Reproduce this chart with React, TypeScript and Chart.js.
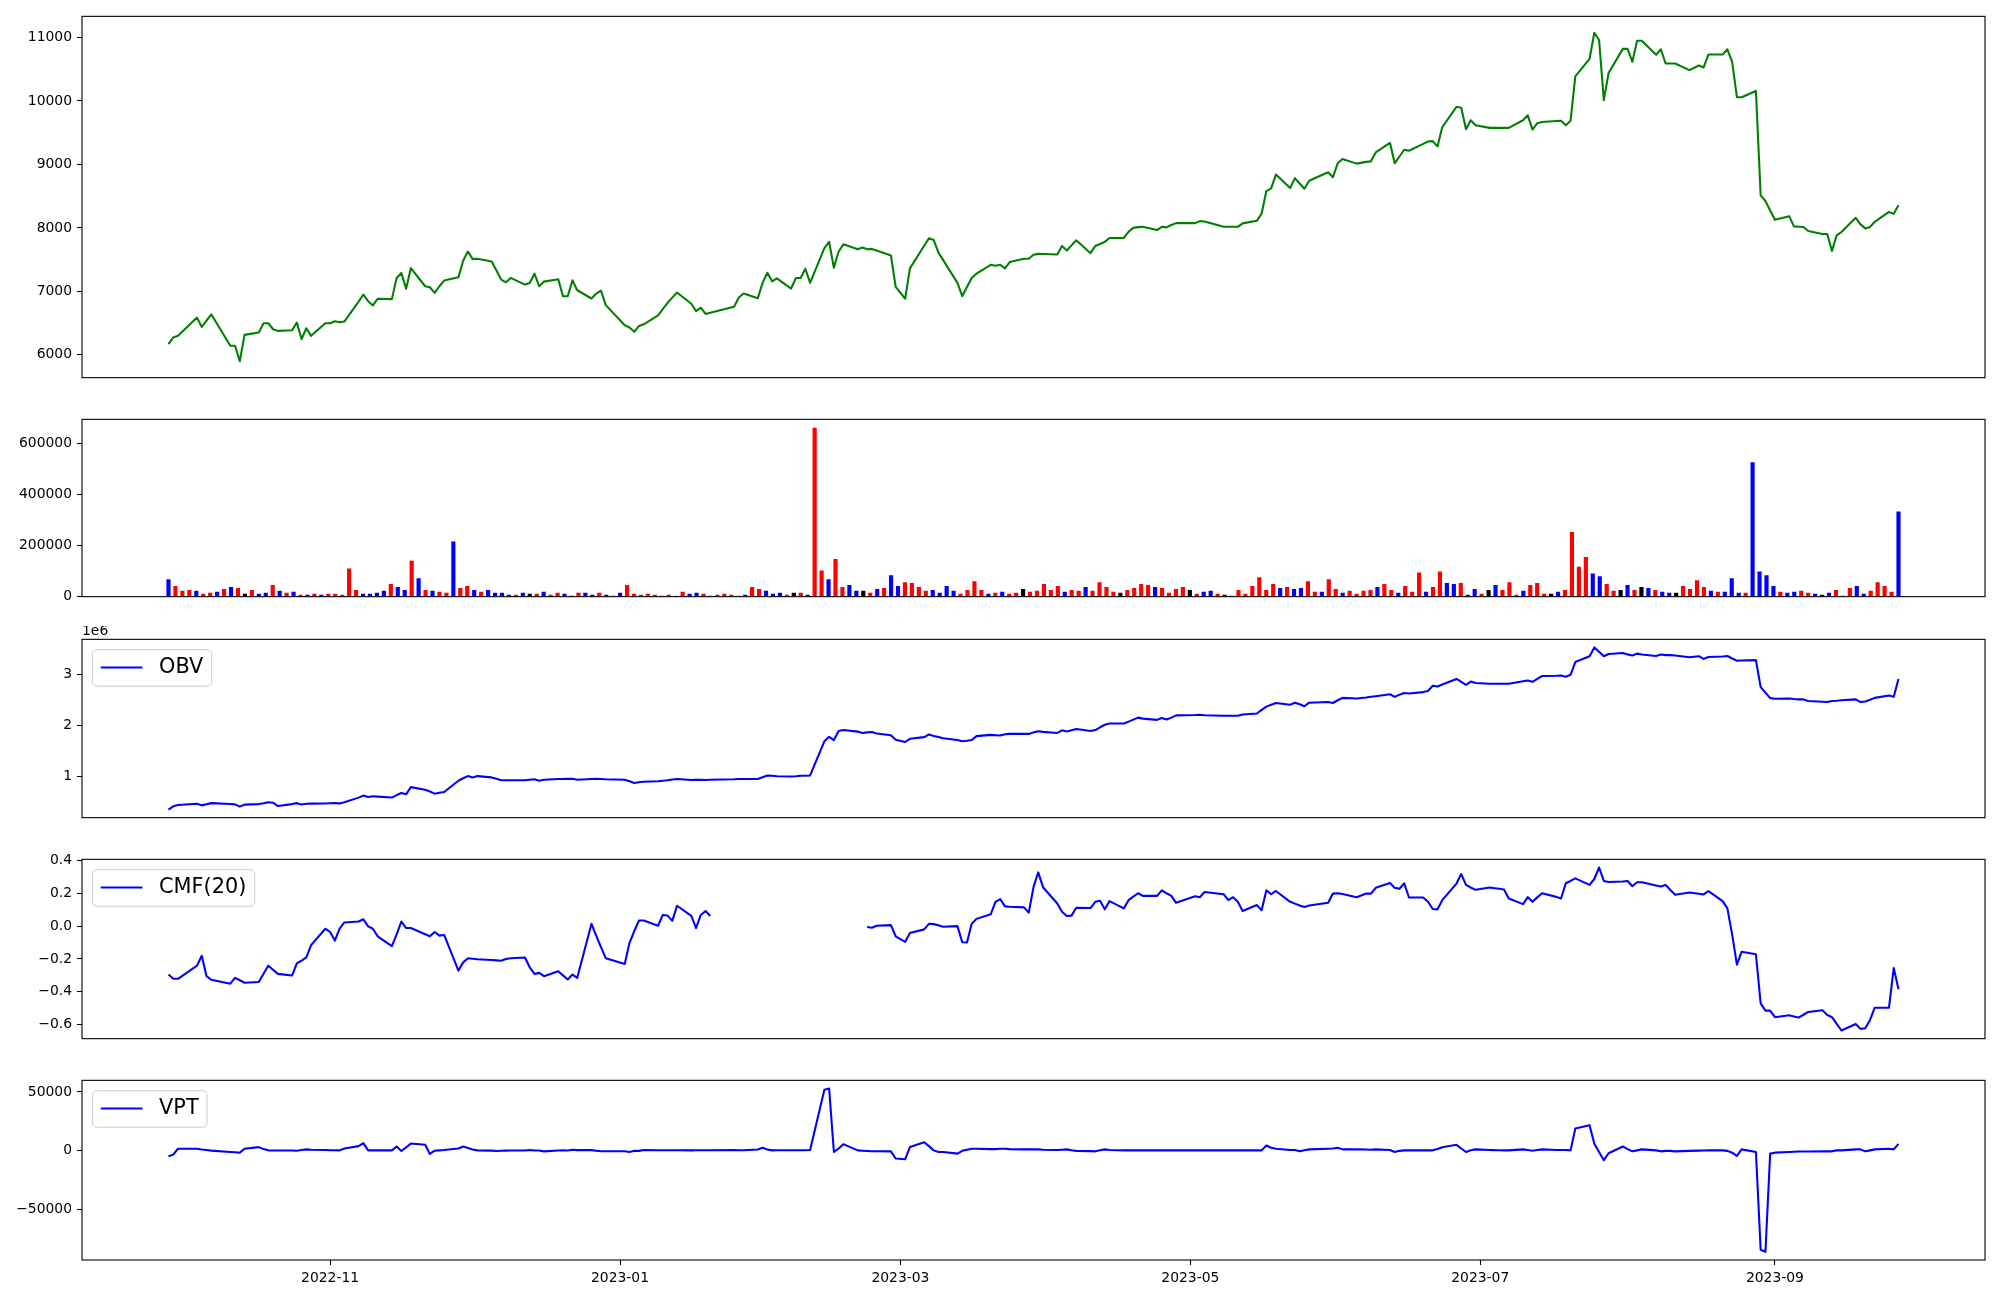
import React, { useEffect, useRef } from 'react';
import { Chart, registerables } from 'chart.js';

Chart.register(...registerables);
Chart.defaults.font.family = '"DejaVu Sans"';

// ---------------- data ----------------
// trading days (KRX), grouped by month
const MONTH_DAYS: [string, number[]][] = [
  ['2022-09', [28, 29, 30]],
  ['2022-10', [4, 5, 6, 7, 11, 12, 13, 14, 17, 18, 19, 20, 21, 24, 25, 26, 27, 28, 31]],
  ['2022-11', [1, 2, 3, 4, 7, 8, 9, 10, 11, 14, 15, 16, 17, 18, 21, 22, 23, 24, 25, 28, 29, 30]],
  ['2022-12', [1, 2, 5, 6, 7, 8, 9, 12, 13, 14, 15, 16, 19, 20, 21, 22, 23, 26, 27, 28, 29]],
  ['2023-01', [2, 3, 4, 5, 6, 9, 10, 11, 12, 13, 16, 17, 18, 19, 20, 25, 26, 27, 30, 31]],
  ['2023-02', [1, 2, 3, 6, 7, 8, 9, 10, 13, 14, 15, 16, 17, 20, 21, 22, 23, 24, 27, 28]],
  ['2023-03', [2, 3, 6, 7, 8, 9, 10, 13, 14, 15, 16, 17, 20, 21, 22, 23, 24, 27, 28, 29, 30, 31]],
  ['2023-04', [3, 4, 5, 6, 7, 10, 11, 12, 13, 14, 17, 18, 19, 20, 21, 24, 25, 26, 27, 28]],
  ['2023-05', [2, 3, 4, 8, 9, 10, 11, 12, 15, 16, 17, 18, 19, 22, 23, 24, 25, 26, 30, 31]],
  ['2023-06', [1, 2, 5, 7, 8, 9, 12, 13, 14, 15, 16, 19, 20, 21, 22, 23, 26, 27, 28, 29, 30]],
  ['2023-07', [3, 4, 5, 6, 7, 10, 11, 12, 13, 14, 17, 18, 19, 20, 21, 24, 25, 26, 27, 28, 31]],
  ['2023-08', [1, 2, 3, 4, 7, 8, 9, 10, 11, 14, 16, 17, 18, 21, 22, 23, 24, 25, 28, 29, 30, 31]],
  ['2023-09', [1, 4, 5, 6, 7, 8, 11, 12, 13, 14, 15, 18, 19, 20, 21, 22, 25, 26, 27]],
];
const DATES: string[] = MONTH_DAYS.flatMap(([ym, days]) =>
  days.map((d) => `${ym}-${String(d).padStart(2, '0')}`)
);

const CLOSE = [
  6170, 6275, 6300, 6587, 6440, 6540, 6639, 6144, 6144, 5900,
  6315, 6353, 6498, 6498, 6404, 6378, 6389, 6509, 6248, 6420,
  6300, 6498, 6498, 6529, 6514, 6525, 6840, 6951, 6846, 6779,
  6883, 6878, 7212, 7290, 7040, 7368, 7081, 7065, 6977, 7081,
  7170, 7221, 7482, 7627, 7508, 7513, 7471, 7328, 7185, 7143,
  7212, 7107, 7133, 7279, 7081, 7154, 7190, 6924, 6924, 7174,
  7018, 6888, 6966, 7013, 6784, 6467, 6431, 6363, 6456, 6482,
  6623, 6722, 6821, 6902, 6982, 6806, 6690, 6743, 6644, 6663,
  6759, 6904, 6967, 6893, 7134, 7294, 7159, 7206, 7045, 7211,
  7211, 7357, 7134, 7680, 7779, 7373, 7627, 7742, 7664, 7690,
  7664, 7669, 7643, 7565, 7071, 6884, 7362, 7718, 7836, 7810,
  7611, 7492, 7134, 6924, 7068, 7211, 7279, 7419, 7404, 7419,
  7362, 7462, 7513, 7513, 7576, 7591, 7588, 7580, 7716, 7643,
  7724, 7805, 7602, 7716, 7747, 7779, 7841, 7841, 7939, 8000,
  8012, 8017, 7966, 8017, 8008, 8045, 8075, 8075, 8106, 8102,
  8017, 8017, 8017, 8017, 8071, 8111, 8227, 8580, 8622, 8840,
  8627, 8783, 8700, 8617, 8742, 8876, 8798, 9017, 9085, 9012,
  9040, 9048, 9189, 9340, 9017, 9124, 9231, 9215, 9324, 9360,
  9367, 9283, 9585, 9907, 9891, 9554, 9695, 9617, 9575, 9575,
  9575, 9575, 9575, 9695, 9773, 9548, 9648, 9668, 9683, 9688,
  9617, 9688, 10386, 10663, 11073, 10959, 10012, 10438, 10819, 10819,
  10616, 10948, 10948, 10725, 10813, 10589, 10589, 10589, 10485, 10558,
  10527, 10730, 10730, 10813, 10616, 10058, 10058, 10157, 8512, 8424,
  8275, 8127, 8185, 8024, 8018, 8013, 7950, 7904, 7904, 7638,
  7883, 7935, 8158, 8055, 7992, 8013, 8096, 8252, 8221, 8356,
];

const VOLUME = [
  68000, 41600, 22700, 26500, 22700, 11300, 15100, 18900, 30200, 37800,
  34000, 11300, 26500, 11300, 15100, 45400, 22700, 15100, 18900, 7600,
  7600, 11300, 7600, 11300, 11300, 7600, 109600, 26500, 11300, 11300,
  15100, 22700, 49100, 37800, 26500, 140000, 71800, 26500, 22700, 18900,
  15100, 216000, 34000, 41600, 26500, 18900, 26500, 15100, 15100, 7600,
  7600, 15100, 11300, 11300, 18900, 7600, 15100, 11300, 3800, 15100,
  15100, 7600, 15100, 7600, 3800, 15100, 45400, 11300, 7600, 11300,
  7600, 3800, 7600, 3800, 18900, 11300, 15100, 11300, 3800, 7600,
  11300, 7600, 3800, 7600, 37800, 30200, 22700, 11300, 15100, 7600,
  15100, 15100, 7600, 660000, 102000, 68000, 147000, 37800, 45400, 22700,
  22700, 15100, 30200, 34000, 83200, 41600, 56700, 52900, 37800, 22700,
  26500, 15100, 41600, 22700, 11300, 26500, 60500, 26500, 11300, 15100,
  18900, 11300, 15100, 30200, 18900, 22700, 49100, 26500, 41600, 18900,
  26500, 22700, 37800, 22700, 56700, 37800, 18900, 15100, 26500, 34000,
  49100, 45400, 37800, 34000, 15100, 30200, 37800, 26500, 11300, 18900,
  22700, 11300, 7600, 3800, 26500, 11300, 41600, 75600, 26500, 49100,
  34000, 37800, 30200, 34000, 60500, 18900, 18900, 68000, 30200, 15100,
  22700, 11300, 22700, 26500, 37800, 49100, 26500, 15100, 41600, 18900,
  94500, 18900, 37800, 98300, 52900, 49100, 52900, 7600, 30200, 11300,
  26500, 45400, 26500, 56700, 7600, 22700, 45400, 52900, 11300, 11300,
  18900, 26500, 253000, 117000, 155000, 90700, 79400, 49100, 22700, 26500,
  45400, 26500, 37800, 34000, 26500, 18900, 15100, 15100, 41600, 30200,
  64300, 37800, 22700, 18900, 18900, 71800, 15100, 15100, 525000, 98300,
  83200, 41600, 18900, 15100, 18900, 22700, 15100, 11300, 7600, 15100,
  26500, 3800, 34000, 41600, 11300, 22700, 56700, 41600, 18900, 333000,
];

// bar colour per day: r = red, b = blue, k = black
const BAR_COLOR_CODES =
  'brrrbrrbrb' + 'rkrbbrbrbr' + 'brbrrrrrbb' + 'bbrbbrbrbr' + 'rbrrbrbbbb' +
  'rbkrbrrbkr' + 'bbrbbbrrrr' + 'rrrrrbbrbr' + 'rrrbrrbbbr' + 'krbrrbrrbb' +
  'krbrbbrrrr' + 'bbbbrrrrbr' + 'brrkrrrrrb' + 'rrbrrrrkrr' + 'rrbrrrrkrb' +
  'brkbrrrrrr' + 'brbbrrbrrb' + 'rrrrbrrbrr' + 'rbrrbbrbbr' + 'kbrrrbrrrk' +
  'brrrrbbrrk' + 'brkbrbbkrr' + 'rrbrbbbrbb' + 'bbrbbrrbkb' + 'rbrbbrrrrb';

const OBV = [
  346000, 409000, 434000, 460000, 428000, 450000, 472000, 455000, 447000, 403000,
  442000, 453000, 470000, 491000, 480000, 415000, 453000, 472000, 447000, 460000,
  462000, 466000, 469000, 472000, 467000, 491000, 580000, 620000, 594000, 606000,
  600000, 581000, 630000, 671000, 645000, 786000, 735000, 700000, 658000, 675000,
  690000, 912000, 960000, 1002000, 977000, 1002000, 977000, 950000, 920000, 920000,
  920000, 920000, 930000, 939000, 912000, 930000, 945000, 945000, 948000, 950000,
  931000, 945000, 950000, 945000, 940000, 931000, 900000, 868000, 880000, 890000,
  900000, 910000, 920000, 935000, 945000, 925000, 928000, 928000, 925000, 930000,
  940000, 945000, 945000, 945000, 980000, 1015000, 1008000, 1000000, 996000, 1000000,
  1008000, 1010000, 1015000, 1685000, 1773000, 1709000, 1887000, 1906000, 1875000, 1849000,
  1860000, 1868000, 1837000, 1805000, 1715000, 1671000, 1734000, 1767000, 1818000, 1790000,
  1767000, 1745000, 1710000, 1685000, 1695000, 1709000, 1786000, 1811000, 1805000, 1799000,
  1824000, 1830000, 1830000, 1830000, 1860000, 1881000, 1870000, 1849000, 1901000, 1876000,
  1900000, 1926000, 1887000, 1906000, 1960000, 2009000, 2034000, 2034000, 2070000, 2110000,
  2149000, 2130000, 2105000, 2143000, 2111000, 2150000, 2193000, 2200000, 2207000, 2197000,
  2187000, 2187000, 2187000, 2187000, 2212000, 2231000, 2300000, 2365000, 2400000, 2436000,
  2403000, 2442000, 2410000, 2372000, 2442000, 2455000, 2436000, 2490000, 2537000, 2526000,
  2545000, 2558000, 2570000, 2608000, 2557000, 2600000, 2633000, 2621000, 2650000, 2671000,
  2774000, 2761000, 2800000, 2908000, 2850000, 2793000, 2857000, 2830000, 2813000, 2813000,
  2813000, 2813000, 2813000, 2862000, 2876000, 2851000, 2910000, 2966000, 2970000, 2977000,
  2952000, 2990000, 3239000, 3354000, 3526000, 3440000, 3354000, 3398000, 3417000, 3390000,
  3367000, 3405000, 3386000, 3359000, 3386000, 3375000, 3375000, 3367000, 3335000, 3354000,
  3302000, 3340000, 3348000, 3359000, 3310000, 3264000, 3270000, 3277000, 2748000, 2640000,
  2532000, 2518000, 2526000, 2515000, 2507000, 2507000, 2474000, 2460000, 2455000, 2474000,
  2480000, 2490000, 2507000, 2455000, 2465000, 2500000, 2537000, 2583000, 2557000, 2908000,
];

const CMF: (number | null)[] = [
  -0.295, -0.321, -0.321, -0.241, -0.181, -0.305, -0.327, -0.351, -0.315, -0.33,
  -0.345, -0.341, -0.29, -0.241, -0.266, -0.291, -0.301, -0.227, -0.21, -0.191,
  -0.116, -0.016, -0.036, -0.088, -0.016, 0.022, 0.028, 0.042, -0.002, -0.016,
  -0.062, -0.122, -0.05, 0.028, -0.012, -0.012, -0.05, -0.062, -0.036, -0.058,
  -0.054, -0.271, -0.221, -0.196, -0.199, -0.202, -0.207, -0.209, -0.211, -0.2,
  -0.196, -0.191, -0.251, -0.291, -0.285, -0.305, -0.275, -0.3, -0.325, -0.295,
  -0.315, 0.014, -0.06, -0.128, -0.196, -0.231, -0.102, -0.03, 0.034, 0.034,
  0.002, 0.068, 0.064, 0.032, 0.124, 0.062, -0.012, 0.068, 0.092, 0.062,
  null, null, null, null, null, null, null, null, null, null,
  null, null, null, null, null, null, null, null, null, null,
  -0.006, -0.01, 0.002, 0.006, -0.062, -0.096, -0.042, -0.02, 0.014, 0.012,
  0.005, -0.004, 0.0, -0.098, -0.1, 0.014, 0.044, 0.072, 0.148, 0.164,
  0.12, 0.118, 0.114, 0.082, 0.237, 0.327, 0.237, 0.138, 0.088, 0.062,
  0.064, 0.112, 0.11, 0.148, 0.154, 0.102, 0.152, 0.108, 0.158, 0.18,
  0.2, 0.184, 0.184, 0.218, 0.2, 0.184, 0.142, 0.182, 0.176, 0.208,
  0.194, 0.158, 0.176, 0.148, 0.092, 0.128, 0.096, 0.218, 0.194, 0.214,
  0.148, 0.137, 0.126, 0.116, 0.125, 0.142, 0.198, 0.2, 0.195, 0.176,
  0.198, 0.198, 0.233, 0.263, 0.233, 0.227, 0.261, 0.174, 0.174, 0.148,
  0.104, 0.102, 0.158, 0.259, 0.317, 0.251, 0.235, 0.221, 0.235, 0.231,
  0.227, 0.223, 0.168, 0.134, 0.176, 0.148, 0.175, 0.2, 0.178, 0.168,
  0.261, 0.275, 0.291, 0.251, 0.287, 0.357, 0.275, 0.269, 0.272, 0.275,
  0.243, 0.267, 0.267, 0.247, 0.241, 0.251, 0.22, 0.191, 0.205, 0.197,
  0.193, 0.213, 0.152, 0.108, -0.052, -0.235, -0.156, -0.172, -0.471, -0.515,
  -0.515, -0.555, -0.543, -0.55, -0.557, -0.54, -0.523, -0.513, -0.541, -0.555,
  -0.595, -0.636, -0.596, -0.626, -0.622, -0.573, -0.497, -0.497, -0.255, -0.385,
];

const VPT = [
  -4590, -3200, 1800, 1800, 1200, 700, 200, -970, -1200, -1530,
  1800, 3200, 1500, 420, 300, 300, 300, 140, 700, 1250,
  1000, 700, 500, 500, 420, 2000, 4030, 6530, 420, 420,
  420, 420, 3750, -140, 3000, 6250, 5140, -2640, 140, 400,
  700, 2000, 3750, 2500, 1200, 420, 200, -140, 100, 200,
  300, 300, 700, 300, 300, -420, 300, 500, 300, 970,
  600, 600, 140, -400, -400, -400, -970, 0, 0, 700,
  500, 500, 500, 500, 500, 420, 500, 500, 500, 500,
  700, 500, 500, 1200, 2640, 1200, 420, 500, 500, 500,
  500, 500, 700, 51850, 52960, -970, 2000, 5700, 420, 100,
  -140, -300, -300, -420, -6530, -7090, 3200, 7370, 4000, 420,
  -1000, -1000, -2360, 0, 1000, 1800, 1800, 1500, 1500, 1800,
  1800, 1500, 1250, 1250, 1250, 1250, 900, 700, 1000, 1250,
  500, 0, -200, -420, 500, 1250, 800, 420, 420, 500,
  420, 420, 420, 420, 420, 420, 420, 420, 420, 420,
  420, 420, 420, 420, 420, 420, 420, 4590, 2640, 1800,
  700, 700, -420, 500, 1250, 1800, 2000, 2640, 1250, 1250,
  1100, 970, 1250, 700, -970, 0, 420, 420, 420, 420,
  420, 1500, 3000, 5140, 2000, -970, 500, 1250, 800, 600,
  500, 420, 420, 1250, 800, 140, 700, 1250, 800, 800,
  800, 420, 19040, 21820, 5980, -1000, -7920, -2000, 3750, 1500,
  -420, 400, 1250, 400, -420, 0, 0, -420, 0, 200,
  300, 400, 420, 0, -1530, -4310, 1250, -970, -84000, -85760,
  -2360, -1530, -970, -700, -600, -500, -500, -450, -420, -420,
  400, 400, 1250, 1250, -420, 400, 1250, 1800, 1250, 5980,
];

const PRICE_TICKS = [6000, 7000, 8000, 9000, 10000, 11000];
const VOLUME_TICKS = [0, 200000, 400000, 600000];
const OBV_TICKS = [1000000, 2000000, 3000000];
const CMF_TICKS = [-0.6, -0.4, -0.2, 0.0, 0.2, 0.4];
const VPT_TICKS = [-50000, 0, 50000];
const X_TICK_MONTHS = ['2022-11', '2023-01', '2023-03', '2023-05', '2023-07', '2023-09'];

const LEGEND_OBV = 'OBV';
const LEGEND_CMF = 'CMF(20)';
const LEGEND_VPT = 'VPT';
const OBV_OFFSET_TEXT = '1e6';

// ---------------- layout / style ----------------
const FIG_W = 2000;
const FIG_H = 1300;
const AX_LEFT = 82;
const AX_RIGHT = 1985;
const PAD = 12;
const X_AXIS_H = 46;
const PANEL_BOUNDS: [number, number][] = [
  [15, 379],
  [418, 598],
  [638, 819],
  [858, 1040],
  [1079, 1260],
];
const TICK_FONT = 13.9;
const LEGEND_FONT = 20.83;
const LINE_W = 2.08;
const COLOR_MAP: Record<string, string> = { r: '#ff0000', b: '#0000ff', k: '#000000' };

const DAY_MS = 86400000;
const toDay = (s: string) => {
  const [y, m, d] = s.split('-').map(Number);
  return Date.UTC(y, m - 1, d || 1) / DAY_MS;
};
const D0 = toDay(DATES[0]);
const LINE_X = DATES.map((s) => toDay(s) - D0);
const SPAN = LINE_X[LINE_X.length - 1] - LINE_X[0];
const BAR_X = DATES.map((_, i) => LINE_X[0] + (i * SPAN) / (DATES.length - 1));
const X_MIN = LINE_X[0] - 0.05 * SPAN;
const X_MAX = LINE_X[LINE_X.length - 1] + 0.05 * SPAN;

const minus = (s: string) => s.replace('-', '\u2212');

function autoLimits(vals: (number | null)[]): [number, number] {
  const v = vals.filter((x): x is number => x !== null);
  const lo = Math.min(...v);
  const hi = Math.max(...v);
  const m = (hi - lo) * 0.05;
  return [lo - m, hi + m];
}

type Spec = {
  kind: 'line' | 'bar';
  values: (number | null)[];
  color: string;
  ticks: number[];
  fmt: (v: number) => string;
  limits: [number, number];
  legend?: string;
  offsetText?: string;
};

const SPECS: Spec[] = [
  {
    kind: 'line', values: CLOSE, color: '#008000', ticks: PRICE_TICKS,
    fmt: (v) => String(v), limits: autoLimits(CLOSE),
  },
  {
    kind: 'bar', values: VOLUME, color: '#0000ff', ticks: VOLUME_TICKS,
    fmt: (v) => String(v), limits: [0, Math.max(...VOLUME) * 1.05],
  },
  {
    kind: 'line', values: OBV, color: '#0000ff', ticks: OBV_TICKS,
    fmt: (v) => String(Math.round(v / 1e6)), limits: autoLimits(OBV),
    legend: LEGEND_OBV, offsetText: OBV_OFFSET_TEXT,
  },
  {
    kind: 'line', values: CMF, color: '#0000ff', ticks: CMF_TICKS,
    fmt: (v) => minus(v.toFixed(1)), limits: autoLimits(CMF), legend: LEGEND_CMF,
  },
  {
    kind: 'line', values: VPT, color: '#0000ff', ticks: VPT_TICKS,
    fmt: (v) => minus(String(v)), limits: autoLimits(VPT), legend: LEGEND_VPT,
  },
];

function makeFramePlugin(spec: Spec) {
  return {
    id: 'mplFrame',
    afterDraw(chart: any) {
      const { ctx, chartArea: a } = chart;
      ctx.save();
      ctx.strokeStyle = '#000';
      ctx.lineWidth = 1.1;
      ctx.strokeRect(a.left, a.top, a.right - a.left, a.bottom - a.top);

      if (spec.offsetText) {
        ctx.font = `${TICK_FONT}px "DejaVu Sans"`;
        ctx.fillStyle = '#000';
        ctx.textAlign = 'left';
        ctx.textBaseline = 'alphabetic';
        ctx.fillText(spec.offsetText, a.left, a.top - 4);
      }

      if (spec.legend) {
        const fs = LEGEND_FONT;
        ctx.font = `${fs}px "DejaVu Sans"`;
        const tw = ctx.measureText(spec.legend).width;
        const pad = 0.4 * fs;
        const hl = 2 * fs;
        const htp = 0.8 * fs;
        const x0 = a.left + 0.5 * fs;
        const y0 = a.top + 0.5 * fs;
        const w = pad + hl + htp + tw + pad;
        const h = 1.75 * fs;
        ctx.beginPath();
        if ((ctx as any).roundRect) (ctx as any).roundRect(x0, y0, w, h, 0.2 * fs);
        else ctx.rect(x0, y0, w, h);
        ctx.fillStyle = 'rgba(255,255,255,0.8)';
        ctx.fill();
        ctx.strokeStyle = '#cccccc';
        ctx.lineWidth = 1;
        ctx.stroke();

        const yMid = y0 + h / 2 - 0.5;
        ctx.beginPath();
        ctx.moveTo(x0 + pad, yMid);
        ctx.lineTo(x0 + pad + hl, yMid);
        ctx.strokeStyle = spec.color;
        ctx.lineWidth = LINE_W;
        ctx.stroke();

        ctx.fillStyle = '#000';
        ctx.textAlign = 'left';
        ctx.textBaseline = 'alphabetic';
        ctx.fillText(spec.legend, x0 + pad + hl + htp, y0 + 1.125 * fs);
      }
      ctx.restore();
    },
  };
}

function makeConfig(k: number): any {
  const spec = SPECS[k];
  const isBottom = k === SPECS.length - 1;

  const dataset =
    spec.kind === 'bar'
      ? {
          type: 'bar',
          data: spec.values.map((v, i) => ({ x: BAR_X[i], y: v })),
          backgroundColor: BAR_COLOR_CODES.split('').map((c) => COLOR_MAP[c]),
          borderWidth: 0,
          barPercentage: 0.6,
          categoryPercentage: 1,
          grouped: false,
        }
      : {
          type: 'line',
          data: spec.values.map((v, i) => ({ x: LINE_X[i], y: v })),
          borderColor: spec.color,
          borderWidth: LINE_W,
          pointRadius: 0,
          tension: 0,
          spanGaps: false,
          fill: false,
          borderJoinStyle: 'round',
        };

  const tickGrid = {
    display: true,
    drawOnChartArea: false,
    drawTicks: true,
    tickLength: 5,
    tickColor: '#000',
    tickWidth: 1.1,
  };

  return {
    type: spec.kind,
    data: { datasets: [dataset] },
    options: {
      animation: false,
      responsive: false,
      maintainAspectRatio: false,
      devicePixelRatio: 1,
      events: [],
      layout: {
        padding: { left: 0, right: FIG_W - AX_RIGHT, top: PAD, bottom: isBottom ? 0 : PAD },
      },
      plugins: { legend: { display: false }, tooltip: { enabled: false } },
      scales: {
        x: {
          type: 'linear',
          min: X_MIN,
          max: X_MAX,
          offset: false,
          display: isBottom,
          afterBuildTicks: (s: any) => {
            s.ticks = X_TICK_MONTHS.map((m) => ({ value: toDay(m + '-01') - D0 }));
          },
          afterFit: (s: any) => {
            if (isBottom) s.height = X_AXIS_H;
          },
          grid: tickGrid,
          border: { display: false },
          ticks: {
            autoSkip: false,
            maxRotation: 0,
            minRotation: 0,
            padding: 5,
            color: '#000',
            font: { size: TICK_FONT },
            callback: (_v: any, i: number) => X_TICK_MONTHS[i],
          },
        },
        y: {
          type: 'linear',
          min: spec.limits[0],
          max: spec.limits[1],
          afterBuildTicks: (s: any) => {
            s.ticks = spec.ticks.map((v) => ({ value: v }));
          },
          afterFit: (s: any) => {
            s.width = AX_LEFT;
          },
          grid: tickGrid,
          border: { display: false },
          ticks: {
            autoSkip: false,
            padding: 5,
            color: '#000',
            font: { size: TICK_FONT },
            callback: (v: any) => spec.fmt(Number(v)),
          },
        },
      },
    },
    plugins: [makeFramePlugin(spec)],
  };
}

export default function App() {
  const canvases = useRef<(HTMLCanvasElement | null)[]>([]);

  useEffect(() => {
    const charts = SPECS.map((_, k) => new Chart(canvases.current[k] as HTMLCanvasElement, makeConfig(k)));
    return () => charts.forEach((c) => c.destroy());
  }, []);

  return (
    <div
      style={{
        position: 'absolute',
        left: 0,
        top: 0,
        width: FIG_W,
        height: FIG_H,
        background: '#ffffff',
        overflow: 'hidden',
      }}
    >
      {PANEL_BOUNDS.map(([top, bottom], k) => {
        const isBottom = k === PANEL_BOUNDS.length - 1;
        const h = bottom - top + PAD + (isBottom ? X_AXIS_H : PAD);
        return (
          <canvas
            key={k}
            ref={(el) => {
              canvases.current[k] = el;
            }}
            width={FIG_W}
            height={h}
            style={{ position: 'absolute', left: 0, top: top - PAD, width: FIG_W, height: h }}
          />
        );
      })}
    </div>
  );
}
